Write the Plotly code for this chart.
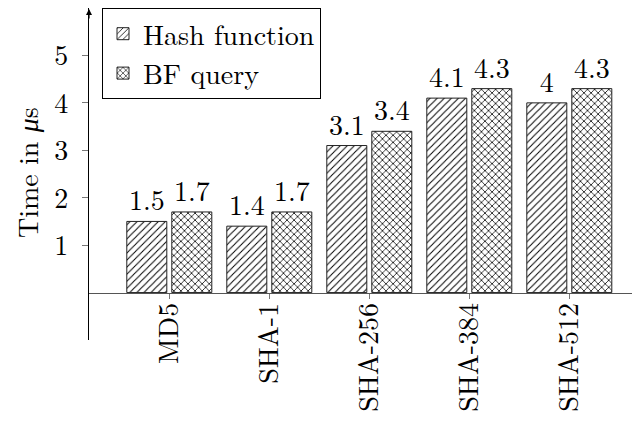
import plotly.graph_objects as go

categories = ["MD5", "SHA-1", "SHA-256", "SHA-384", "SHA-512"]
hash_time = [1.5, 1.4, 3.1, 4.1, 4.0]
bf_time = [1.7, 1.7, 3.4, 4.3, 4.3]
y_ticks = [1, 2, 3, 4, 5]
y_title = "Time in <i>μ</i>s"

FONT = "Latin Modern Roman"
FS = 28

fig = go.Figure()
fig.add_trace(go.Bar(
    x=categories, y=hash_time, name="Hash function",
    width=0.4, offset=-0.425,
    marker=dict(color="white", line=dict(color="#222", width=1),
                pattern=dict(shape="/", size=5, solidity=0.2, fgcolor="black", bgcolor="white", fgopacity=1)),
    texttemplate="%{y}", textposition="outside", textfont=dict(size=FS, color="black", family=FONT),
    cliponaxis=False,
))
fig.add_trace(go.Bar(
    x=categories, y=bf_time, name="BF query",
    width=0.4, offset=0.025,
    marker=dict(color="white", line=dict(color="#222", width=1),
                pattern=dict(shape="x", size=5, solidity=0.28, fgcolor="black", bgcolor="white", fgopacity=1)),
    texttemplate="%{y}", textposition="outside", textfont=dict(size=FS, color="black", family=FONT),
    cliponaxis=False,
))

ymin, ymax = -1, 6
pos0 = (0 - ymin) / (ymax - ymin)
xr = [-0.803, 4.707]

fig.update_layout(
    width=632, height=417,
    margin=dict(l=81, r=0, t=0, b=85, autoexpand=False),
    paper_bgcolor="white", plot_bgcolor="white",
    barmode="overlay",
    font=dict(family=FONT, size=FS, color="black"),
    showlegend=True,
    legend=dict(x=(102 - 89) / 551, y=1.0, xanchor="left", yanchor="top",
                bgcolor="white", bordercolor="black", borderwidth=1,
                font=dict(size=FS, family=FONT), tracegroupgap=0,
                itemwidth=30),
    xaxis=dict(
        range=xr, anchor="free", position=pos0, automargin=False,
        showline=True, linecolor="#555", linewidth=1.2,
        ticks="outside", ticklen=5, tickcolor="#777", tickwidth=1,
        tickangle=-90, showgrid=False, zeroline=False,
        ticklabelstandoff=-7,
        tickfont=dict(size=FS, family=FONT),
    ),
    xaxis2=dict(
        overlaying="x", range=xr, anchor="free", position=pos0,
        tickmode="array", tickvals=list(range(len(categories))), showticklabels=False,
        ticks="inside", ticklen=5, tickcolor="#777", tickwidth=1,
        showline=False, showgrid=False, zeroline=False,
    ),
    yaxis=dict(
        range=[ymin, ymax], tickmode="array", tickvals=y_ticks, automargin=False,
        showline=True, linecolor="black", linewidth=1.2,
        ticks="outside", ticklen=6, tickcolor="#777", tickwidth=1,
        showgrid=False, zeroline=False, ticklabelstandoff=8,
        tickfont=dict(size=FS, family=FONT),
    ),
    yaxis2=dict(
        overlaying="y", range=[ymin, ymax], tickmode="array", tickvals=y_ticks,
        showticklabels=False, ticks="inside", ticklen=6, tickcolor="#777", tickwidth=1,
        showline=False, showgrid=False, zeroline=False, anchor="x",
    ),
    annotations=[
        dict(xref="paper", yref="paper", x=0, y=1.0, ax=0, ay=12, text="",
             showarrow=True, arrowhead=2, arrowsize=1, arrowwidth=1.2, arrowcolor="black"),
        dict(xref="paper", yref="paper", x=-63.5 / 551, y=0.5045, xanchor="center", yanchor="middle",
             text=y_title, textangle=-90, showarrow=False, font=dict(size=FS, family=FONT, color="black")),
    ],
)

fig.write_html("out.html")
